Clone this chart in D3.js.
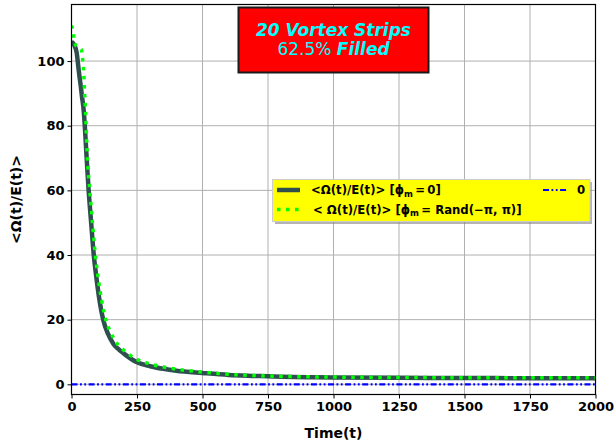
<!DOCTYPE html>
<html><head><meta charset="utf-8">
<script src="https://cdn.jsdelivr.net/npm/d3@7"></script>
<style>
body{margin:0;background:#fff;}
svg{display:block;font-family:"DejaVu Sans",sans-serif;}
</style></head><body>
<svg id="c" width="616" height="445"></svg>
<script>
const solidT = [0,10,20,25,30,35,40,45,50,55,60,65,75,85,95,105,121,140,160,175,200,250,300,350,400,500,600,700,800,900,1000,1250,1500,1750,2000];
const solidV = [106,105,102.5,99,95.5,92.5,89,86,81,74,67,60.5,50,40,33,27,20,15.5,12.5,11.2,9.5,6.8,5.6,4.8,4.2,3.5,2.9,2.6,2.35,2.2,2.1,2.0,1.95,1.9,1.9];
const randT = [0,5,10,15,20,30,38,42,47,50,54,57,62,70,80,91,100,115,131,150,175,200,250,300,350,400,500,600,700,800,1000,1250,1500,1750,2000];
const randV = [111,109.5,107,105,104.5,104,103.5,101,96,90,84,77,68,60,50,40,34,26,20,16,12.5,10.5,7.7,6.3,5.4,4.7,3.8,3.1,2.7,2.45,2.25,2.1,2.05,2.0,2.0];
const zeroT = [0,2000];
const zeroV = [0,0];
const xTicks = [0,250,500,750,1000,1250,1500,1750,2000];
const yTicks = [0,20,40,60,80,100];

const svg = d3.select("#c");
const L=71.5,R=595.5,T=4.5,B=394.5;
const x = d3.scaleLinear().domain([0,2000]).range([L,R]);
const y = d3.scaleLinear().domain([-3.15,117.5]).range([B,T]);

// grid
const g = svg.append("g");
g.selectAll(".gx").data(xTicks).enter().append("line")
 .attr("x1",d=>x(d)).attr("x2",d=>x(d)).attr("y1",T).attr("y2",B)
 .attr("stroke","#b0b0b0").attr("stroke-width",1);
g.selectAll(".gy").data(yTicks).enter().append("line")
 .attr("x1",L).attr("x2",R).attr("y1",d=>y(d)).attr("y2",d=>y(d))
 .attr("stroke","#b0b0b0").attr("stroke-width",1);

const line = d3.line().x(d=>x(d[0])).y(d=>y(d[1])).curve(d3.curveMonotoneX);
svg.append("clipPath").attr("id","cp").append("rect").attr("x",L).attr("y",T).attr("width",R-L).attr("height",B-T);
const pl = svg.append("g").attr("clip-path","url(#cp)");
pl.append("path").attr("d",line(solidT.map((t,i)=>[t,solidV[i]])))
 .attr("fill","none").attr("stroke","#2f4f4f").attr("stroke-width",4.5);
pl.append("path").attr("d",line(randT.map((t,i)=>[t,randV[i]])))
 .attr("fill","none").attr("stroke","#00ff00").attr("stroke-width",3.5).attr("stroke-dasharray","3.5,5.5");
pl.append("path").attr("d",line(zeroT.map((t,i)=>[t,zeroV[i]])))
 .attr("fill","none").attr("stroke","#0000ff").attr("stroke-width",2.2).attr("stroke-dasharray","6,2.5,1.8,2.5,1.8,2.5");

// axes
const xa = svg.append("g").attr("transform",`translate(0,${B})`)
 .call(d3.axisBottom(x).tickValues(xTicks).tickSize(4).tickPadding(3).tickFormat(d3.format("d")));
const ya = svg.append("g").attr("transform",`translate(${L},0)`)
 .call(d3.axisLeft(y).tickValues(yTicks).tickSize(4).tickPadding(3).tickFormat(d3.format("d")));
[xa,ya].forEach(a=>{a.select(".domain").remove();
 a.selectAll("text").attr("font-family","DejaVu Sans").attr("font-weight","bold").attr("font-size",13).attr("fill","#000");
 a.selectAll("line").attr("stroke","#000").attr("stroke-width",1);});
svg.append("rect").attr("x",L).attr("y",T).attr("width",R-L).attr("height",B-T)
 .attr("fill","none").attr("stroke","#000").attr("stroke-width",1.2);

svg.append("text").attr("x",(L+R)/2).attr("y",438).attr("text-anchor","middle")
 .attr("font-weight","bold").attr("font-size",14).text("Time(t)");
svg.append("text").attr("transform",`translate(21,${(T+B)/2}) rotate(-90)`).attr("text-anchor","middle")
 .attr("font-weight","bold").attr("font-size",14).text("<Ω(t)/E(t)>");

// title box
svg.append("rect").attr("x",238.5).attr("y",7.5).attr("width",190).attr("height",65)
 .attr("fill","#ff0000").attr("stroke","#1a1a1a").attr("stroke-width",2);
svg.append("text").attr("x",333.5).attr("y",36).attr("text-anchor","middle")
 .attr("font-size",17).attr("font-weight","bold").attr("font-style","italic").attr("fill","#00ffff").text("20 Vortex Strips");
const t2 = svg.append("text").attr("x",333.5).attr("y",55).attr("text-anchor","middle")
 .attr("font-size",17).attr("fill","#00ffff");
t2.append("tspan").text("62.5% ");
t2.append("tspan").attr("font-weight","bold").attr("font-style","italic").text("Filled");

// legend
const lg = svg.append("g");
lg.append("rect").attr("x",275).attr("y",182).attr("width",317).attr("height",42).attr("fill","#808080").attr("opacity",0.6);
lg.append("rect").attr("x",272.5).attr("y",179.5).attr("width",317.5).attr("height",42)
 .attr("fill","#ffff00").attr("stroke","#cccccc").attr("stroke-width",1);
lg.append("line").attr("x1",277).attr("x2",300).attr("y1",190).attr("y2",190).attr("stroke","#2f4f4f").attr("stroke-width",4.5);
lg.append("line").attr("x1",277).attr("x2",300).attr("y1",209.5).attr("y2",209.5).attr("stroke","#00ff00").attr("stroke-width",3.5).attr("stroke-dasharray","3.5,5.5");
lg.append("line").attr("x1",543).attr("x2",567).attr("y1",190).attr("y2",190).attr("stroke","#0000ff").attr("stroke-width",2.2).attr("stroke-dasharray","6,2.5,1.8,2.5,1.8,2.5");
function lab(xp,yp,pre,post){
 const t = lg.append("text").attr("x",xp).attr("y",yp).attr("font-size",11.7).attr("font-weight","bold");
 t.append("tspan").text(pre+"ϕ");
 t.append("tspan").attr("font-size",8.5).attr("dy",2.5).text("m");
 t.append("tspan").attr("dy",-2.5).text(post);
}
lab(311,194,"<Ω(t)/E(t)> [","\u2009=\u20090]");
lab(313,213.5,"< Ω(t)/E(t)> [","\u2009= Rand(−π, π)]");
lg.append("text").attr("x",577).attr("y",194).attr("font-size",11.7).attr("font-weight","bold").text("0");
</script>
</body></html>
